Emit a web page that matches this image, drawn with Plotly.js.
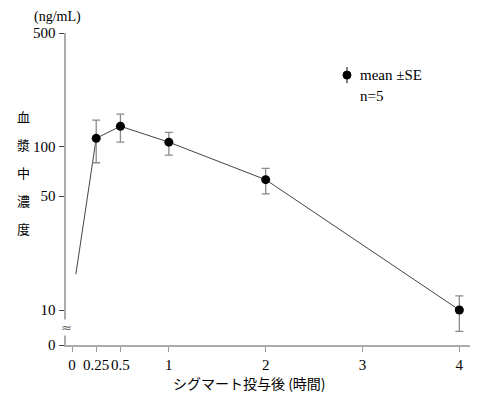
<!DOCTYPE html>
<html>
<head>
<meta charset="utf-8">
<script src="https://cdn.plot.ly/plotly-3.0.1.min.js"></script>
<style>html,body{margin:0;padding:0;background:#fff;}#chart{width:483px;height:399px;}</style>
</head>
<body>
<div id="chart"></div>
<script>
// Data
const timeHours = [0.25, 0.5, 1, 2, 4];
const meanConc = [113, 134, 107, 63, 10];
const seUpper = [146, 159, 123, 74, 12.2];
const seLower = [80, 107, 89, 51.5, 7.4];
const lineStartX = 0.04;
const lineStartY = 16.6;
const xTickVals = [0, 0.25, 0.5, 1, 2, 3, 4];
const xTickText = ['0', '0.25', '0.5', '1', '2', '3', '4'];
const yZeroPos = 6.1; // position where "0" is shown below the axis break
const yTickVals = [yZeroPos, 10, 50, 100, 500];
const yTickText = ['0', '10', '50', '100', '500'];
const yTitleChars = ['血', '漿', '中', '濃', '度'];
const unitLabel = '(ng/mL)';
const xTitle = 'シグマート投与後 (時間)';
const legendLabel = 'mean ±SE';
const nLabel = 'n=5';

const FONT = '"Liberation Serif", "Times New Roman", "Noto Sans CJK JP", serif';
const JFONT = '"Noto Sans CJK JP", "Liberation Serif", serif';

const lineTrace = {
  x: [lineStartX].concat(timeHours),
  y: [lineStartY].concat(meanConc),
  mode: 'lines',
  line: {color: '#444', width: 1},
  hoverinfo: 'skip',
  showlegend: false
};
const markerTrace = {
  x: timeHours,
  y: meanConc,
  mode: 'markers',
  marker: {color: '#000', size: 9},
  error_y: {
    type: 'data', symmetric: false,
    array: seUpper.map((u, i) => u - meanConc[i]),
    arrayminus: meanConc.map((m, i) => m - seLower[i]),
    color: '#8a8a8a', thickness: 1.3, width: 4
  },
  showlegend: false
};

const annotations = [];
yTitleChars.forEach((c, i) => {
  annotations.push({
    xref: 'paper', yref: 'paper', x: -0.104, y: 0.731 - i * 0.0897,
    text: c, showarrow: false, xanchor: 'center', yanchor: 'middle',
    font: {family: JFONT, size: 13, color: '#000'}
  });
});
annotations.push({
  xref: 'paper', yref: 'paper', x: -0.022, y: 1.052, text: unitLabel,
  showarrow: false, xanchor: 'center', yanchor: 'middle',
  font: {family: FONT, size: 14, color: '#000'}
});
annotations.push({
  xref: 'paper', yref: 'paper', x: 0.455, y: -0.122, text: xTitle,
  showarrow: false, xanchor: 'center', yanchor: 'middle',
  font: {family: JFONT, size: 14, color: '#000'}
});
annotations.push({
  xref: 'paper', yref: 'paper', x: 0.723, y: 0.865, text: legendLabel,
  showarrow: false, xanchor: 'left', yanchor: 'middle',
  font: {family: FONT, size: 15, color: '#000'}
});
annotations.push({
  xref: 'paper', yref: 'paper', x: 0.723, y: 0.798, text: nLabel,
  showarrow: false, xanchor: 'left', yanchor: 'middle',
  font: {family: FONT, size: 15, color: '#000'}
});
annotations.push({
  xref: 'paper', yref: 'paper', x: 0, y: 0.055, text: '≈',
  showarrow: false, xanchor: 'center', yanchor: 'middle',
  bgcolor: '#fff', borderpad: 0, textangle: 0,
  font: {family: '"DejaVu Sans", sans-serif', size: 13, color: '#666'}
});

const shapes = [
  {type: 'line', xref: 'paper', yref: 'paper', xsizemode: 'pixel', ysizemode: 'pixel',
   xanchor: 0.6955, yanchor: 0.865, x0: 0, x1: 0, y0: -8, y1: 8,
   line: {color: '#000', width: 1}},
  {type: 'circle', xref: 'paper', yref: 'paper', xsizemode: 'pixel', ysizemode: 'pixel',
   xanchor: 0.6955, yanchor: 0.865, x0: -4, x1: 4, y0: -4, y1: 4,
   fillcolor: '#000', line: {color: '#000', width: 1}}
];

const layout = {
  width: 483, height: 399,
  margin: {l: 66, r: 13, t: 33, b: 54},
  paper_bgcolor: '#fff', plot_bgcolor: '#fff',
  font: {family: FONT, size: 14, color: '#000'},
  showlegend: false,
  xaxis: {
    range: [-0.062, 4.11],
    tickmode: 'array', tickvals: xTickVals, ticktext: xTickText,
    tickangle: 0,
    showgrid: false, zeroline: false,
    showline: true, linecolor: '#aaa', linewidth: 2,
    ticks: 'outside', ticklen: 5, tickcolor: '#999', tickwidth: 1,
    tickfont: {family: FONT, size: 15, color: '#000'}
  },
  yaxis: {
    type: 'log',
    range: [Math.log10(yZeroPos), Math.log10(500)],
    tickmode: 'array', tickvals: yTickVals, ticktext: yTickText,
    showgrid: false, zeroline: false,
    showline: true, linecolor: '#aaa', linewidth: 2.5,
    ticks: 'outside', ticklen: 5, tickcolor: '#444', tickwidth: 1,
    tickfont: {family: FONT, size: 15, color: '#000'}
  },
  annotations: annotations,
  shapes: shapes
};

Plotly.newPlot('chart', [lineTrace, markerTrace], layout, {staticPlot: true, displayModeBar: false});
</script>
</body>
</html>
